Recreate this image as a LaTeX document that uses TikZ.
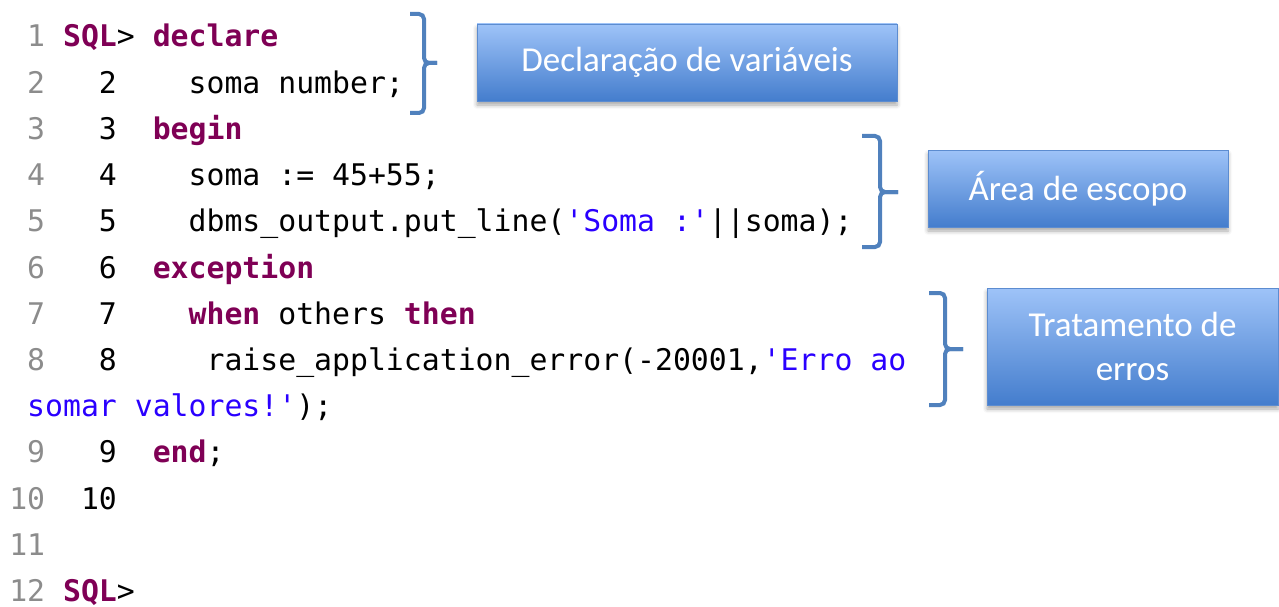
\documentclass[tikz,border=0pt]{standalone}
\usepackage{fontspec}
\usetikzlibrary{shadows.blur}
\setmainfont{Carlito}
\newfontfamily\codefont{DejaVu Sans Mono}
\definecolor{kwc}{RGB}{127,0,85}
\definecolor{strc}{RGB}{42,0,255}
\definecolor{numc}{RGB}{140,140,140}
\definecolor{brc}{RGB}{80,129,189}
\definecolor{boxtop}{RGB}{158,195,248}
\definecolor{boxbot}{RGB}{68,125,205}
\definecolor{boxline}{RGB}{92,140,208}
\newcommand\kw[1]{{\color{kwc}\bfseries #1}}
\newcommand\str[1]{{\color{strc}#1}}
\begin{document}
\begin{tikzpicture}[x=1pt,y=-1pt,
  code/.style={anchor=base west,inner sep=0pt,font=\codefont\fontsize{29.8}{30}\selectfont,text=black},
  lnum/.style={code,text=numc},
  brace/.style={draw=brc,line width=4pt,rounded corners=5pt,line cap=butt},
  label/.style={draw=boxline,line width=0.8pt,top color=boxtop,bottom color=boxbot,
    text=white,font=\fontsize{35}{44}\selectfont,align=center,inner sep=0pt,
    blur shadow={shadow xshift=0pt,shadow yshift=-4pt,shadow blur radius=4pt,shadow opacity=35}}
  ]
\useasboundingbox (0,0) rectangle (1279,607);
\pgfmathsetmacro\cw{17.94}
\pgfmathsetmacro\lh{46.2}
% line numbers (gray)
\foreach \r/\n/\c in {0/1/0,1/2/0,2/3/0,3/4/0,4/5/0,5/6/0,6/7/0,7/8/0,9/9/0,10/10/-1,11/11/-1,12/12/-1}
  \node[lnum] (g\r) at ({27+\c*\cw},{47+\r*\lh}) {\n};
% inner line numbers (black)
\foreach \r/\n/\c in {1/2/4,2/3/4,3/4/4,4/5/4,5/6/4,6/7/4,7/8/4,9/9/4,10/10/3}
  \node[code] (b\r) at ({27+\c*\cw},{47+\r*\lh}) {\n};
% code
\node[code] (c0) at ({27+2*\cw},{47}) {\kw{SQL}> \kw{declare}};
\node[code] (c1) at ({27+9*\cw},{47+1*\lh}) {soma number;};
\node[code] (c2) at ({27+7*\cw},{47+2*\lh}) {\kw{begin}};
\node[code] (c3) at ({27+9*\cw},{47+3*\lh}) {soma := 45+55;};
\node[code] (c4) at ({27+9*\cw},{47+4*\lh}) {dbms\_output.put\_line(\str{'Soma :'}||soma);};
\node[code] (c5) at ({27+7*\cw},{47+5*\lh}) {\kw{exception}};
\node[code] (c6) at ({27+9*\cw},{47+6*\lh}) {\kw{when} others \kw{then}};
\node[code] (c7) at ({27+10*\cw},{47+7*\lh}) {raise\_application\_error(-20001,\str{'Erro ao}};
\node[code] (c8) at ({27},{47+8*\lh}) {\str{somar valores!'});};
\node[code] (c9) at ({27+7*\cw},{47+9*\lh}) {\kw{end};};
\node[code] (c12) at ({27+2*\cw},{47+12*\lh}) {\kw{SQL}>};
% labels
\node[label,minimum width=420pt,minimum height=77pt] (l1) at (687,62.5) {Declaração de variáveis};
\node[label,minimum width=300pt,minimum height=77pt] (l2) at (1078,188.5) {Área de escopo};
\node[label,minimum width=291pt,minimum height=117pt] (l3) at (1132.5,346.5) {Tratamento de\\erros};
% braces
\draw[brace] (410,14) -- (424,14) -- (424,63) -- (437,63);
\draw[brace] (437,63) -- (424,63) -- (424,113) -- (410,113);
\draw[brace] (862,136) -- (880,136) -- (880,192) -- (898,192);
\draw[brace] (898,192) -- (880,192) -- (880,247) -- (862,247);
\draw[brace] (929,293) -- (945,293) -- (945,349) -- (963,349);
\draw[brace] (963,349) -- (945,349) -- (945,405) -- (929,405);
\end{tikzpicture}
\end{document}
